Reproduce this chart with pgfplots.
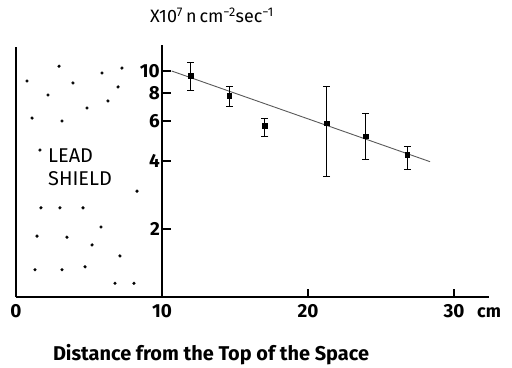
\documentclass[border=0pt]{standalone}
\usepackage{pgfplots}
\pgfplotsset{compat=1.18}
\usepackage{fontspec}
\setmainfont{Fira Sans}
\begin{document}
\begin{tikzpicture}[x=1bp,y=1bp]
\useasboundingbox (0,0) rectangle (512,367);
\begin{axis}[
  at={(16bp,70bp)}, anchor=south west,
  scale only axis, width=473bp, height=252bp,
  xmin=0, xmax=32.4, ymode=log, ymin=1, ymax=13.03,
  axis x line=bottom, axis y line=none,
  axis line style={line width=2.2bp,-},
  xtick={0,10,20,30}, xticklabels={0,10,20,30},
  tick align=inside, major tick length=8bp,
  x tick style={line width=1.6bp,black},
  xticklabel style={font=\bfseries\fontsize{19}{19}\selectfont, yshift=-4bp},
  ytick=\empty, clip=false,
]
% lead shield walls and y axis line
\draw[line width=2.2bp] (axis cs:0,1) -- (axis cs:0,12.8);
\draw[line width=2.2bp] (axis cs:10,1) -- (axis cs:10,13.03);
% y ticks
\pgfplotsinvokeforeach{2,4,6,8,10}{
  \draw[line width=1.8bp] (axis cs:10,#1) -- (axis cs:10.65,#1);
  \node[anchor=east, font=\bfseries\fontsize{19}{19}\selectfont, inner sep=2bp] at (axis cs:10,#1) {#1};
}
% shield dots
\addplot[only marks, mark=*, mark size=1.4bp, black] coordinates {
 (2.95,10.5) (0.75,9.03) (3.90,8.85) (5.89,9.8) (7.26,10.3) (6.99,8.5)
 (2.19,7.83) (6.30,7.37) (4.86,6.86) (1.10,6.19) (3.15,6.01) (1.64,4.47)
 (8.29,2.94) (1.71,2.48) (3.01,2.48) (4.59,2.48) (1.44,1.86) (3.49,1.84)
 (5.82,2.04) (5.21,1.70) (7.12,1.52) (1.30,1.32) (3.15,1.32) (4.73,1.36)
 (6.78,1.15) (8.08,1.15)
};
% fit line
\addplot[black!65, line width=0.9bp] coordinates {(10.66,10) (28.36,3.97)};
% data with error bars
\addplot[only marks, mark=square*, mark size=2.4bp, black,
  error bars/.cd, y dir=both, y explicit,
  error bar style={line width=0.9bp, black},
  error mark options={rotate=90, mark size=3.5bp, line width=0.9bp}]
coordinates {
 (11.97,9.5)  += (0,1.4)  -= (0,1.26)
 (14.61,7.78) += (0,0.80) -= (0,0.78)
 (17.05,5.71) += (0,0.47) -= (0,0.56)
 (21.28,5.88) += (0,2.65) -= (0,2.45)
 (23.97,5.15) += (0,1.35) -= (0,1.09)
 (26.80,4.25) += (0,0.38) -= (0,0.58)
};
% shield label
\node[anchor=west, align=left, font=\fontsize{20}{23}\selectfont, inner sep=0pt] at (axis cs:2.19,3.75) {LEAD\\SHIELD};
\end{axis}
\node[anchor=west, font=\bfseries\fontsize{18}{18}\selectfont, inner sep=0pt] at (477,54) {cm};
\node[font=\fontsize{18}{18}\selectfont] at (212,352) {X10\textsuperscript{7}\,n\,cm\textsuperscript{−2}sec\textsuperscript{−1}};
\node[font=\bfseries\fontsize{20}{20}\selectfont] at (211,12) {Distance from the Top of the Space};
\end{tikzpicture}
\end{document}
